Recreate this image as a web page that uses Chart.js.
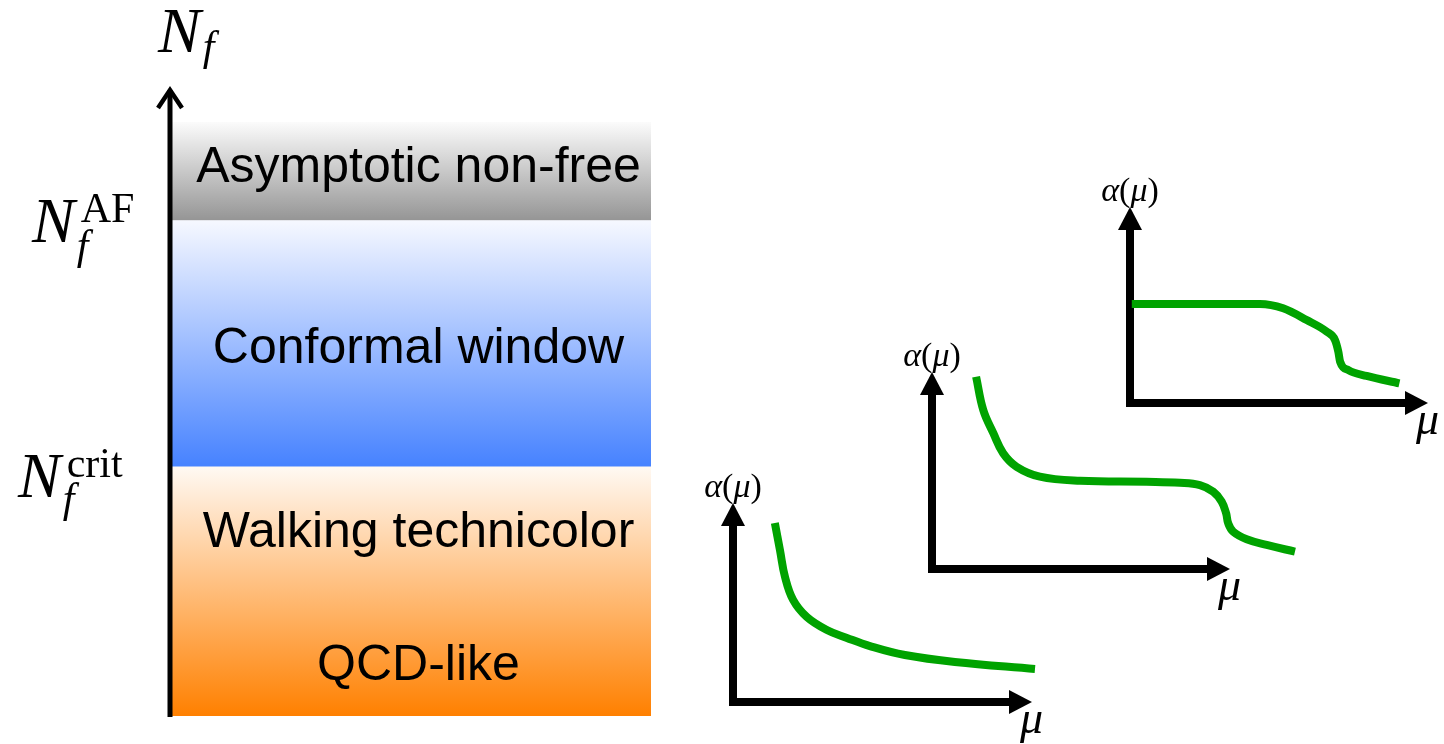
<!DOCTYPE html>
<html>
<head>
<meta charset="utf-8">
<script src="https://cdn.jsdelivr.net/npm/chart.js@4.4.0/dist/chart.umd.min.js"></script>
<style>
  html, body { margin: 0; padding: 0; background: #fff; }
  #wrap { position: relative; width: 1444px; height: 744px; overflow: hidden; }
  #wrap canvas { position: absolute; left: 0; top: 0; }
</style>
</head>
<body>
<div id="wrap">
  <canvas id="nfChart" width="1444" height="744"></canvas>
  <canvas id="qcdChart" width="1444" height="744"></canvas>
  <canvas id="walkChart" width="1444" height="744"></canvas>
  <canvas id="confChart" width="1444" height="744"></canvas>
</div>
<script>
// --- Data (arbitrary units) ---

// N_f axis: bands from bottom to top
const nfBandNames = ['Below N_f^crit', 'Conformal window', 'Asymptotic non-free']
const nfBandLow = [0, 2.54, 5.05]
const nfBandHigh = [2.54, 5.05, 6.05]
const nfAxisMax = 6.4
const nfAF = 5.05
const nfCrit = 2.54

const bandLabels = ['Asymptotic non-free', 'Conformal window', 'Walking technicolor', 'QCD-like']
const bandLabelNf = [5.44, 3.60, 1.72, 0.37]

// alpha(mu) sketches, mu axis arrow ends at 10
const muAxisEnd = 10
const alphaAxisEnd = 10

const qcdMu = [1.40, 1.57, 1.74, 2.01, 2.47, 3.14, 3.81, 4.58, 5.75, 7.42, 10.1]
const qcdAlpha = [8.99, 7.64, 6.28, 5.13, 4.27, 3.62, 3.22, 2.81, 2.36, 2.01, 1.66]

const walkMu = [1.48, 1.72, 2.06, 2.39, 2.84, 3.62, 4.97, 7.20, 8.32, 8.99, 9.44, 9.72, 9.87, 9.94, 10.11, 10.56, 11.23, 12.18]
const walkAlpha = [9.76, 8.07, 6.89, 5.87, 5.19, 4.69, 4.48, 4.43, 4.38, 4.26, 3.92, 3.42, 2.83, 2.32, 1.89, 1.51, 1.22, 0.88]

const confMu = [0.06, 3.69, 4.36, 5.14, 5.93, 6.60, 6.88, 6.99, 7.05, 7.33, 7.94, 9.04]
const confAlpha = [5.05, 5.05, 5.05, 4.83, 4.23, 3.64, 3.21, 2.62, 2.11, 1.68, 1.38, 1.00]

// --- Styles ---

const bandTop = ['#fff9f3', '#f6f8ff', '#fbfbfb']
const bandBottom = ['#ff8000', '#4682ff', '#959595']
const curveColor = '#00a300'
const SERIF = '"Liberation Serif", "Times New Roman", serif'
const SANS = '"Liberation Sans", Arial, sans-serif'

const W = 1444, H = 744

// --- Helpers ---

function bandGradient(ctx) {
  const chart = ctx.chart
  const i = ctx.datasetIndex
  if (!chart.chartArea) return bandBottom[i]
  const y = chart.scales.y
  const top = y.getPixelForValue(nfBandHigh[i])
  const bot = y.getPixelForValue(nfBandLow[i])
  const g = chart.ctx.createLinearGradient(0, top, 0, bot)
  g.addColorStop(0, bandTop[i])
  g.addColorStop(1, bandBottom[i])
  return g
}

function drawNf(ctx, x, y, sup, supDx, subDx, subDy) {
  ctx.font = 'italic 64px ' + SERIF
  ctx.fillText('N', x, y)
  const wN = ctx.measureText('N').width
  if (sup) {
    ctx.font = '42px ' + SERIF
    ctx.fillText(sup, x + wN + supDx, y - 20)
  }
  ctx.font = 'italic 42px ' + SERIF
  ctx.fillText('f', x + wN + subDx, y + subDy)
}

function drawPieces(ctx, pieces, cx, y) {
  let total = 0
  pieces.forEach(p => { ctx.font = p[1]; total += ctx.measureText(p[0]).width })
  let x = cx - total / 2
  pieces.forEach(p => {
    ctx.font = p[1]
    ctx.fillText(p[0], x, y)
    x += ctx.measureText(p[0]).width
  })
}

// Left panel: axis arrow, N_f labels, band texts
const nfDecor = {
  id: 'nfDecor',
  afterDatasetsDraw(chart) {
    const ctx = chart.ctx
    const a = chart.chartArea
    const ys = chart.scales.y
    const ax = a.left
    ctx.save()
    ctx.strokeStyle = '#000'
    ctx.fillStyle = '#000'
    ctx.lineWidth = 5
    ctx.beginPath()
    ctx.moveTo(ax, a.bottom + 1)
    ctx.lineTo(ax, a.top + 2)
    ctx.stroke()
    ctx.lineWidth = 4.5
    ctx.lineJoin = 'miter'
    ctx.beginPath()
    ctx.moveTo(ax - 12, a.top + 20)
    ctx.lineTo(ax, a.top + 2)
    ctx.lineTo(ax + 12, a.top + 20)
    ctx.stroke()

    ctx.textAlign = 'left'
    ctx.textBaseline = 'alphabetic'
    drawNf(ctx, ax - 12, a.top - 36, null, 0, 2, 8)
    drawNf(ctx, ax - 138, ys.getPixelForValue(nfAF) + 22, 'AF', 6, 2, 17)
    drawNf(ctx, ax - 152, ys.getPixelForValue(nfCrit) + 30, 'crit', 6, 2, 15)

    ctx.textAlign = 'center'
    ctx.font = '50px ' + SANS
    const cx = (a.left + a.right) / 2 + 8
    bandLabels.forEach((t, i) => ctx.fillText(t, cx, ys.getPixelForValue(bandLabelNf[i])))
    ctx.restore()
  }
}

// Right panels: arrow axes under the curve, labels
const axesDecor = {
  id: 'axesDecor',
  beforeDatasetsDraw(chart) {
    const ctx = chart.ctx
    const xs = chart.scales.x
    const ys = chart.scales.y
    const left = xs.getPixelForValue(0)
    const right = xs.getPixelForValue(muAxisEnd)
    const bottom = ys.getPixelForValue(0)
    const top = ys.getPixelForValue(alphaAxisEnd)
    ctx.save()
    ctx.strokeStyle = '#000'
    ctx.fillStyle = '#000'
    ctx.lineWidth = 8
    ctx.beginPath()
    ctx.moveTo(left, bottom + 4)
    ctx.lineTo(left, top + 20)
    ctx.moveTo(left - 4, bottom)
    ctx.lineTo(right - 20, bottom)
    ctx.stroke()
    ctx.beginPath()
    ctx.moveTo(left, top)
    ctx.lineTo(left - 12, top + 23)
    ctx.lineTo(left + 12, top + 23)
    ctx.closePath()
    ctx.fill()
    ctx.beginPath()
    ctx.moveTo(right, bottom)
    ctx.lineTo(right - 23, bottom - 12)
    ctx.lineTo(right - 23, bottom + 12)
    ctx.closePath()
    ctx.fill()

    ctx.textBaseline = 'alphabetic'
    ctx.textAlign = 'left'
    drawPieces(ctx, [
      ['α', 'italic 34px ' + SERIF],
      ['(', '34px ' + SERIF],
      ['μ', 'italic 34px ' + SERIF],
      [')', '34px ' + SERIF]
    ], left, top - 6)
    ctx.font = 'italic 46px ' + SERIF
    ctx.fillText('μ', right - 12, bottom + 31)
    ctx.restore()
  }
}

const baseOpts = {
  responsive: false,
  animation: false,
  events: [],
  plugins: { legend: { display: false }, tooltip: { enabled: false } }
}

// --- Left: N_f bands as floating bars ---

new Chart(document.getElementById('nfChart'), {
  type: 'bar',
  data: {
    labels: ['N_f'],
    datasets: nfBandNames.map((name, i) => ({
      label: name,
      data: [[nfBandLow[i], nfBandHigh[i]]],
      backgroundColor: bandGradient,
      borderWidth: 0,
      grouped: false,
      barPercentage: 1,
      categoryPercentage: 1
    }))
  },
  options: Object.assign({}, baseOpts, {
    layout: { padding: { left: 170, top: 88, right: W - 651, bottom: H - 716 } },
    scales: {
      x: { display: false },
      y: { display: false, min: 0, max: nfAxisMax }
    }
  }),
  plugins: [nfDecor]
})

// --- Right: running-coupling sketches ---

// x range is set after data limits (not via min/max) so points past the
// arrow tip are still drawn
function fixRange(lo, hi) {
  return scale => { scale.min = lo; scale.max = hi }
}

function makePanel(id, mu, alpha, box, interp) {
  return new Chart(document.getElementById(id), {
    type: 'line',
    data: {
      datasets: [{
        data: mu.map((m, i) => ({ x: m, y: alpha[i] })),
        borderColor: curveColor,
        borderWidth: 8,
        borderCapStyle: 'butt',
        borderJoinStyle: 'round',
        pointRadius: 0,
        tension: 0.4,
        cubicInterpolationMode: interp,
        fill: false,
        clip: false
      }]
    },
    options: Object.assign({}, baseOpts, {
      layout: { padding: { left: box.left, top: box.top, right: W - box.right, bottom: H - box.bottom } },
      scales: {
        x: { type: 'linear', display: false, bounds: 'data', afterDataLimits: fixRange(0, muAxisEnd) },
        y: { type: 'linear', display: false, bounds: 'data', afterDataLimits: fixRange(0, alphaAxisEnd) }
      }
    }),
    plugins: [axesDecor]
  })
}

makePanel('qcdChart', qcdMu, qcdAlpha, { left: 733, top: 503, right: 1032, bottom: 702 }, 'default')
makePanel('walkChart', walkMu, walkAlpha, { left: 932, top: 372, right: 1230, bottom: 569 }, 'default')
makePanel('confChart', confMu, confAlpha, { left: 1130, top: 207, right: 1428, bottom: 403 }, 'monotone')
</script>
</body>
</html>
